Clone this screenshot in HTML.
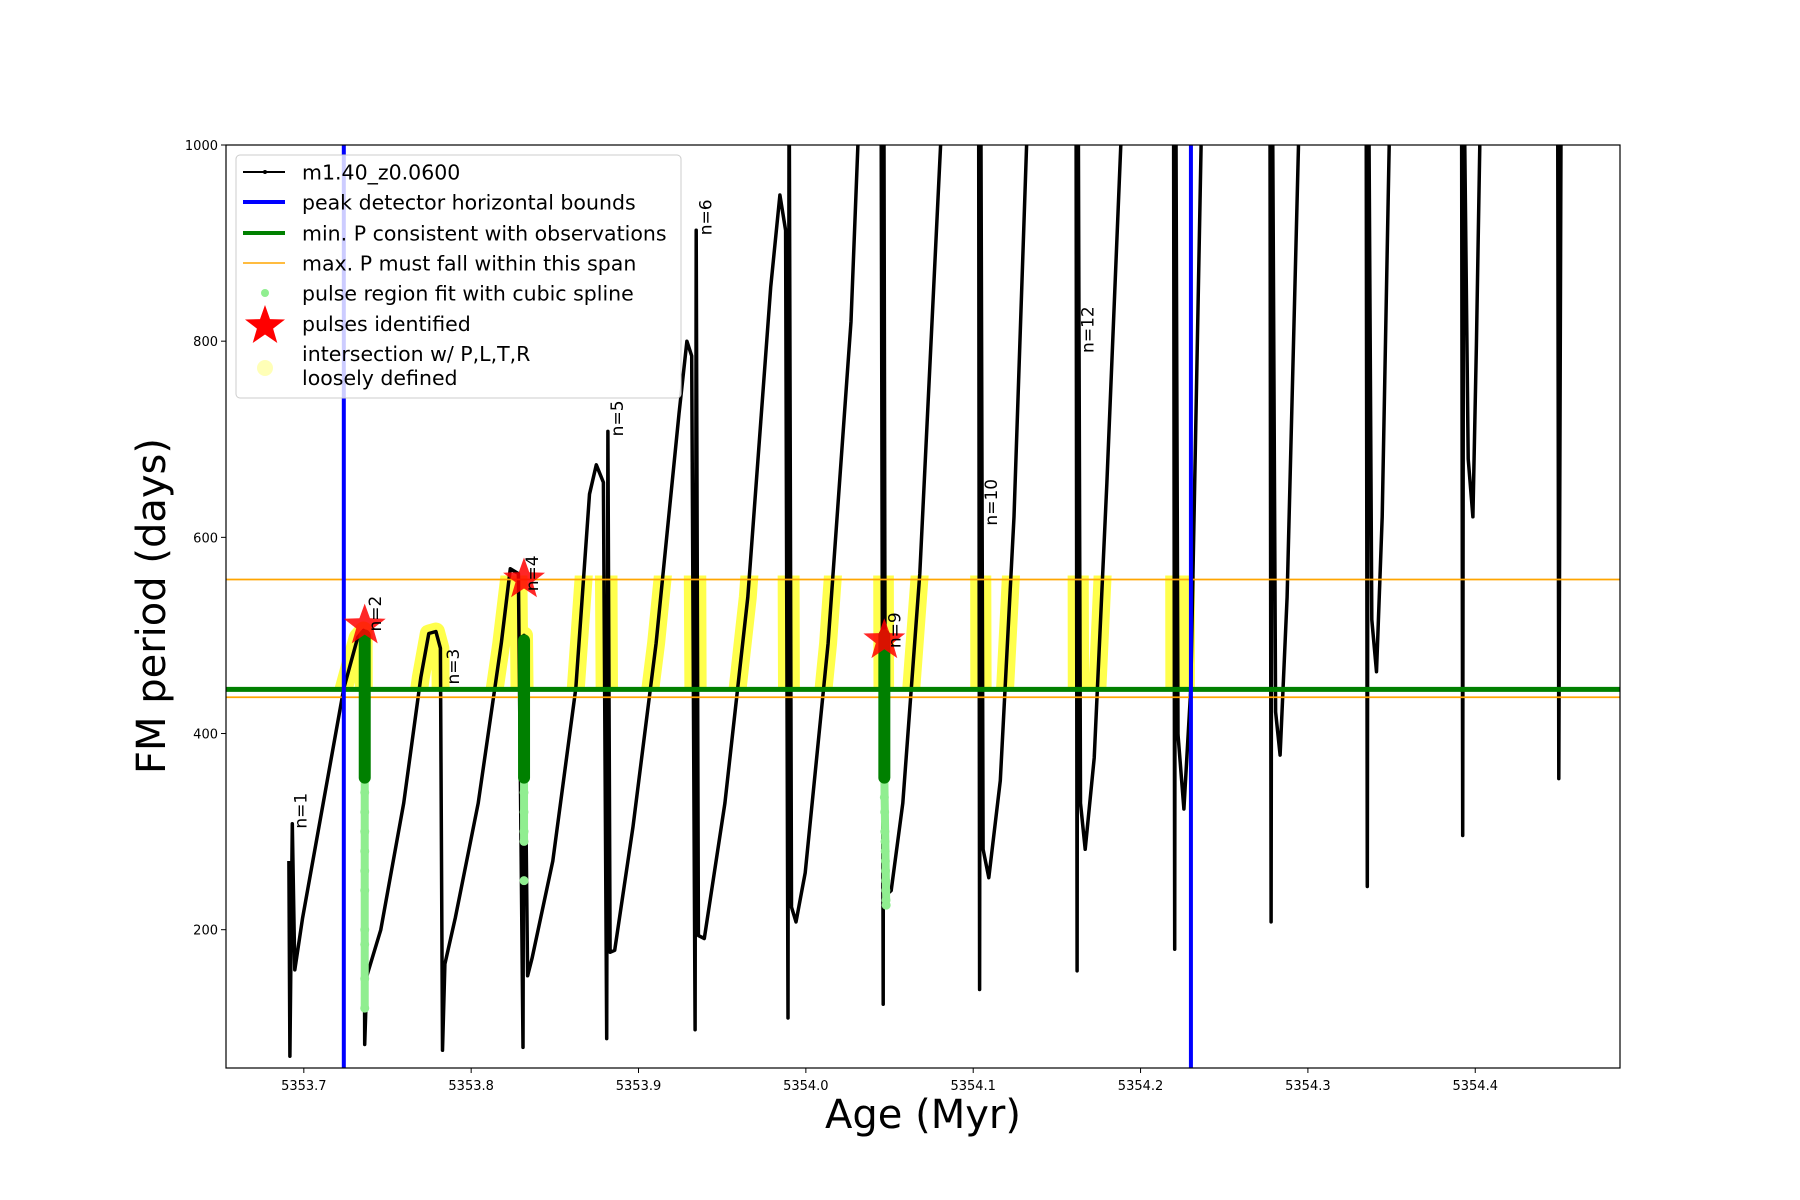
<!DOCTYPE html>
<html><head><meta charset="utf-8"><style>
html,body{margin:0;padding:0;background:#fff;}
svg{display:block;font-family:"DejaVu Sans","Liberation Sans",sans-serif;}
</style></head><body>
<svg id="chart" width="1800" height="1200" viewBox="0 0 1800 1200" xmlns="http://www.w3.org/2000/svg">
<defs>
<clipPath id="plotclip"><rect x="226" y="145" width="1394" height="923"/></clipPath>
<clipPath id="yclip"><rect id="yclipRect" x="0" y="0" width="0" height="0"/></clipPath>
</defs>
<rect x="0" y="0" width="1800" height="1200" fill="#fff"/>
<g id="plot" clip-path="url(#plotclip)"></g>
<rect x="226" y="145" width="1394" height="923" fill="none" stroke="#000" stroke-width="1.2"/>
<g id="xticks"></g>
<g id="yticks"></g>
<text x="923" y="1128" font-size="40" text-anchor="middle">Age (Myr)</text>
<text transform="translate(165,606) rotate(-90)" font-size="40" text-anchor="middle">FM period (days)</text>
<g id="legend">
<rect x="236" y="155" width="445" height="243" rx="4" fill="#fff" fill-opacity="0.8" stroke="#ccc" stroke-width="1"/>
<g><line x1="243" y1="172" x2="285" y2="172" stroke="#000" stroke-width="2"/><circle cx="265" cy="172" r="2" fill="#000"/><text x="302" y="179.5" font-size="20.5">m1.40_z0.0600</text></g>
<g><line x1="243" y1="202" x2="285" y2="202" stroke="#0000ff" stroke-width="4"/><text x="302" y="209.5" font-size="20.5">peak detector horizontal bounds</text></g>
<g><line x1="243" y1="233" x2="285" y2="233" stroke="#008000" stroke-width="4"/><text x="302" y="240.5" font-size="20.5">min. P consistent with observations</text></g>
<g><line x1="243" y1="263" x2="285" y2="263" stroke="#ffa500" stroke-width="1.6"/><text x="302" y="270.5" font-size="20.5">max. P must fall within this span</text></g>
<g><circle cx="265" cy="293" r="4" fill="#90ee90"/><text x="302" y="300.5" font-size="20.5">pulse region fit with cubic spline</text></g>
<g><polygon id="legstar" fill="#ff0000"/><text x="302" y="331" font-size="20.5">pulses identified</text></g>
<g><circle cx="265" cy="368" r="8" fill="#ffff99" fill-opacity="0.7"/><text x="302" y="361" font-size="20.5">intersection w/ P,L,T,R</text><text x="302" y="385" font-size="20.5">loosely defined</text></g>
</g>
</svg>
<script>
const xDomain=[5353.6535,5354.4865];
const yDomain=[59,1000];
const xTickVals=[5353.7,5353.8,5353.9,5354.0,5354.1,5354.2,5354.3,5354.4];
const xTickLabels=["5353.7","5353.8","5353.9","5354.0","5354.1","5354.2","5354.3","5354.4"];
const yTickVals=[200,400,600,800,1000];
const yTickLabels=["200","400","600","800","1000"];
const modelAges=[5353.6911,5353.6917,5353.6931,5353.6946,5353.6993,5353.7116,5353.7239,5353.7322,5353.7357,5353.7364,5353.7377,5353.7460,5353.7597,5353.7699,5353.7747,5353.7789,5353.7816,5353.7829,5353.7843,5353.7905,5353.8042,5353.8180,5353.8234,5353.8282,5353.8310,5353.8316,5353.8337,5353.8364,5353.8488,5353.8625,5353.8707,5353.8748,5353.8790,5353.8810,5353.8817,5353.8830,5353.8858,5353.8967,5353.9105,5353.9242,5353.9289,5353.9318,5353.9338,5353.9345,5353.9358,5353.9393,5353.9516,5353.9653,5353.9790,5353.9845,5353.9879,5353.9893,5353.9900,5353.9914,5353.9941,5353.9996,5354.0133,5354.0270,5354.0311,5354.0449,5354.0462,5354.0466,5354.0476,5354.0510,5354.0579,5354.0681,5354.0764,5354.0805,5354.1032,5354.1038,5354.1045,5354.1059,5354.1093,5354.1162,5354.1244,5354.1319,5354.1614,5354.1621,5354.1627,5354.1641,5354.1669,5354.1723,5354.1799,5354.1882,5354.2197,5354.2204,5354.2210,5354.2224,5354.2259,5354.2300,5354.2362,5354.2773,5354.2780,5354.2787,5354.2807,5354.2834,5354.2876,5354.2944,5354.3348,5354.3355,5354.3362,5354.3382,5354.3410,5354.3444,5354.3486,5354.3918,5354.3925,5354.3931,5354.3958,5354.3986,5354.4007,5354.4027,5354.4492,5354.4499,5354.4514];
const modelPeriods=[270,71,308,159,212,329,446,498,505,83,153,200,329,457,502,504,487,77,165,212,329,492,568,563,80,500,153,171,270,446,644,674,656,89,708,177,179,305,492,726,800,785,98,913,194,191,329,539,855,949,913,110,1100,223,208,258,492,820,1000,1100,124,1100,235,240,329,563,855,1000,1100,139,1100,282,253,352,621,1000,1100,158,1100,329,282,375,656,1000,1100,180,1100,399,323,446,1000,1100,208,1100,422,378,539,1000,1100,244,1100,516,463,621,1000,1100,296,1100,680,621,796,1000,1100,354,1100];
const boundAges=[5353.7239,5354.2301];
const minP=[445];
const maxPSpan=[437,557];
const pulseAges=[5353.7364,5353.8316,5354.0469];
const pulsePeriods=[510,557,495];
const greenTop=[500,495,500];
const greenBottom=[355,355,355];
const spline1=[340,320,300,280,260,240,200,150,120,185];
const spline2=[340,320,300,290,250];
const spline3=[335,320,300,290,280,270,260,250,240,230,225];
const splineSets=[spline1,spline2,spline3];
const splineAgeOffsets=[[0,0,0,0,0,0,0,0,0,0],[0,0,0,0,0],[0,0.0002,0.0003,0.0004,0.0005,0.0006,0.0007,0.0008,0.0009,0.001,0.0011]];
const labelText=["n=1","n=2","n=3","n=4","n=5","n=6","n=9","n=10","n=12"];
const labelAges=[5353.6980,5353.7425,5353.7891,5353.8364,5353.8871,5353.9400,5354.0531,5354.1106,5354.1683];
const labelPeriods=[303,504,450,545,703,908,487,612,788];

const L=226,R=1620,T=145,B=1068;
function sx(a){return L+(a-xDomain[0])/(xDomain[1]-xDomain[0])*(R-L);}
function sy(p){return B-(p-yDomain[0])/(yDomain[1]-yDomain[0])*(B-T);}
const NS="http://www.w3.org/2000/svg";
function mk(tag,attrs,parent){const e=document.createElementNS(NS,tag);for(const k in attrs)e.setAttribute(k,attrs[k]);parent.appendChild(e);return e;}
function starPts(cx,cy,ro,ri){let s=[];for(let i=0;i<10;i++){const r=i%2?ri:ro;const a=-Math.PI/2+i*Math.PI/5;s.push((cx+r*Math.cos(a)).toFixed(1)+","+(cy+r*Math.sin(a)).toFixed(1));}return s.join(" ");}
document.getElementById('legstar').setAttribute('points',starPts(265,326,21,8.5));

const plot=document.getElementById('plot');
const pts=modelAges.map((a,i)=>sx(a).toFixed(1)+","+sy(modelPeriods[i]).toFixed(1)).join(" ");

const yc=document.getElementById('yclipRect');
yc.setAttribute('x',sx(boundAges[0])-10);
yc.setAttribute('width',sx(boundAges[1])-sx(boundAges[0])+14);
yc.setAttribute('y',sy(maxPSpan[1])-4);
yc.setAttribute('height',sy(minP[0])-sy(maxPSpan[1])+6);
const yellowG=mk('g',{'clip-path':'url(#yclip)'},plot);
const yl=mk('polyline',{points:pts,fill:'none',stroke:'#ffff00','stroke-opacity':0.7,'stroke-width':18,'stroke-linejoin':'round','stroke-linecap':'round'},yellowG);



const ml=mk('polyline',{points:pts,fill:'none',stroke:'#000','stroke-width':3.5,'stroke-linejoin':'round'},plot);



maxPSpan.forEach((p,i)=>{const l=mk('line',{x1:L,x2:R,y1:sy(p),y2:sy(p),stroke:'#ffa500','stroke-width':1.8},plot);

});
const gl=mk('line',{x1:L,x2:R,y1:sy(minP[0]),y2:sy(minP[0]),stroke:'#008000','stroke-width':5},plot);



splineSets.forEach((set,j)=>{set.forEach((p,i)=>{const c=mk('circle',{cx:sx(pulseAges[j]+splineAgeOffsets[j][i]),cy:sy(p),r:4.5,fill:'#90ee90'},plot);

});
const lg=mk('line',{x1:sx(pulseAges[j]),x2:sx(pulseAges[j]+splineAgeOffsets[j][set.length-1]),y1:sy(greenBottom[j]),y2:sy(set[set.length-2]),stroke:'#90ee90','stroke-width':8,'stroke-linecap':'round'},plot);

});
pulseAges.forEach((a,i)=>{const g=mk('line',{x1:sx(a),x2:sx(a),y1:sy(greenTop[i]),y2:sy(greenBottom[i]),stroke:'#008000','stroke-width':12,'stroke-linecap':'round'},plot);

});

boundAges.forEach(a=>{const l=mk('line',{x1:sx(a),x2:sx(a),y1:T,y2:B,stroke:'#0000ff','stroke-width':4},plot);

});

pulseAges.forEach((a,i)=>{const s=mk('polygon',{points:starPts(sx(a),sy(pulsePeriods[i]),22,9),fill:'#ff0000','fill-opacity':0.85},plot);

});

labelText.forEach((t,i)=>{const x=sx(labelAges[i]),y=sy(labelPeriods[i]);
const e=mk('text',{transform:`translate(${x+6},${y}) rotate(-90)`,'font-size':17,fill:'#000'},plot);e.textContent=t;

});

const xt=document.getElementById('xticks');
xTickVals.forEach((v,i)=>{const x=sx(v);mk('line',{x1:x,x2:x,y1:B,y2:B+5,stroke:'#000','stroke-width':1},xt);
const e=mk('text',{x:x,y:B+22,'font-size':13,'text-anchor':'middle'},xt);e.textContent=xTickLabels[i];

});
const ytg=document.getElementById('yticks');
yTickVals.forEach((v,i)=>{const y=sy(v);mk('line',{x1:L-5,x2:L,y1:y,y2:y,stroke:'#000','stroke-width':1},ytg);
const e=mk('text',{x:L-8,y:y+5,'font-size':13,'text-anchor':'end'},ytg);e.textContent=yTickLabels[i];

});
</script>
</body></html>
